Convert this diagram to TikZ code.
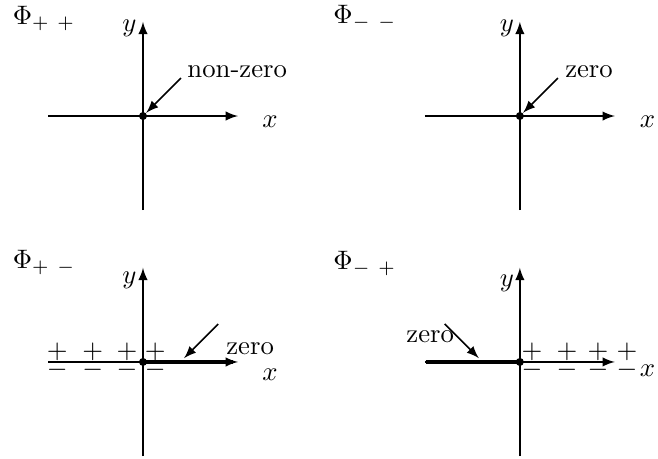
\documentclass[tikz,border=0pt]{standalone}
\usetikzlibrary{positioning}

\begin{document}
\begin{tikzpicture}[
axis/.style={semithick, -latex},
pointer/.style={semithick, -latex},
boundary/.style={line width=1.5pt},
origindot/.style={circle, fill=black, inner sep=0pt, minimum size=3pt},
sign/.style={inner sep=0pt},
title/.style={anchor=west, inner sep=0pt},
]
\useasboundingbox (0,0) rectangle (8.66,6.04);

% Phi_{++}
\begin{scope}[shift={(1.882,4.513)}]
\draw[axis] (-1.25,0) -- (1.25,0);
\draw[axis] (0,-1.24) -- (0,1.24);
\node[origindot]               (OriginPP)  at (0,0)        {};
\node                          (XlabPP)    at (1.67,-0.07) {$x$};
\node                          (YlabPP)    at (-0.18,1.16) {$y$};
\node[title]                   (PhiPP)     at (-1.72,1.29) {$\Phi_{+\ +}$};
\node                          (NonzeroPP) at (1.24,0.58)  {non-zero};
\coordinate                    (TailPP)    at (0.50,0.50);
\draw[pointer] (TailPP) -- (OriginPP);
\end{scope}

% Phi_{--}
\begin{scope}[shift={(6.842,4.513)}]
\draw[axis] (-1.25,0) -- (1.25,0);
\draw[axis] (0,-1.24) -- (0,1.24);
\node[origindot]               (OriginMM)  at (0,0)        {};
\node                          (XlabMM)    at (1.68,-0.07) {$x$};
\node                          (YlabMM)    at (-0.17,1.16) {$y$};
\node[title]                   (PhiMM)     at (-2.46,1.30) {$\Phi_{-\ -}$};
\node                          (ZeroMM)    at (0.91,0.58)  {zero};
\coordinate                    (TailMM)    at (0.50,0.50);
\draw[pointer] (TailMM) -- (OriginMM);
\end{scope}

% Phi_{+-}
\begin{scope}[shift={(1.882,1.276)}]
\draw[axis] (-1.25,0) -- (1.25,0);
\draw[axis] (0,-1.24) -- (0,1.24);
\draw[boundary] (0,0) -- (1.18,0);
\node[origindot]               (OriginPM)  at (0,0)        {};
\node                          (XlabPM)    at (1.67,-0.17) {$x$};
\node                          (YlabPM)    at (-0.18,1.08) {$y$};
\node[title]                   (PhiPM)     at (-1.72,1.31) {$\Phi_{+\ -}$};
\node                          (ZeroPM)    at (1.41,0.17)  {zero};
\coordinate                    (TailPM)    at (0.99,0.50);
\coordinate                    (HeadPM)    at (0.54,0.05);
\draw[pointer] (TailPM) -- (HeadPM);
\foreach \s in {-1.13,-0.66,-0.21,0.16}{
  \node[sign] at (\s,0.135) {$+$};
  \node[sign] at (\s,-0.10) {$-$};
}
\end{scope}

% Phi_{-+}
\begin{scope}[shift={(6.842,1.276)}]
\draw[axis] (-1.25,0) -- (1.25,0);
\draw[axis] (0,-1.24) -- (0,1.24);
\draw[boundary] (-1.24,0) -- (0,0);
\node[origindot]               (OriginMP)  at (0,0)        {};
\node                          (XlabMP)    at (1.68,-0.11) {$x$};
\node                          (YlabMP)    at (-0.17,1.04) {$y$};
\node[title]                   (PhiMP)     at (-2.46,1.29) {$\Phi_{-\ +}$};
\node                          (ZeroMP)    at (-1.18,0.33) {zero};
\coordinate                    (TailMP)    at (-0.99,0.50);
\coordinate                    (HeadMP)    at (-0.54,0.05);
\draw[pointer] (TailMP) -- (HeadMP);
\foreach \s in {0.16,0.62,1.03,1.41}{
  \node[sign] at (\s,0.135) {$+$};
  \node[sign] at (\s,-0.10) {$-$};
}
\end{scope}

\end{tikzpicture}
\end{document}
